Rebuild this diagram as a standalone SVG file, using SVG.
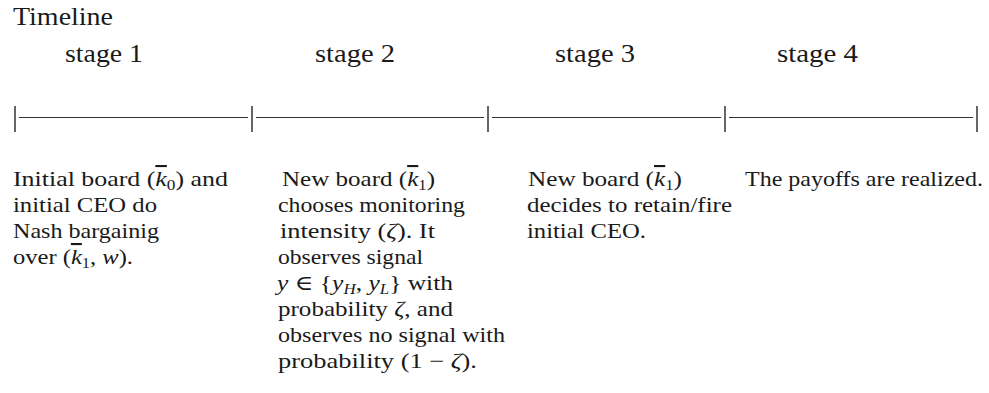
<svg xmlns="http://www.w3.org/2000/svg" width="989" height="393" viewBox="0 0 989 393" font-family="'Liberation Serif', 'DejaVu Serif', serif">
<style>
text{font-family:'Liberation Serif','DejaVu Serif',serif;fill:#1a1a1a}
.h{font-size:25px}
.b{font-size:21px}
.m{font-style:italic}
.ov{text-decoration:overline}
.sub{font-size:14px}
.tl{stroke:#333;stroke-width:1.2;fill:none}
.bar{stroke:#333;stroke-width:1.5}
</style>
<rect width="989" height="393" fill="#fff"/>
<text class="h" x="13" y="25" textLength="100" lengthAdjust="spacingAndGlyphs">Timeline</text>
<g id="timeline">
<line class="tl" x1="19" y1="117.5" x2="248" y2="117.5"/>
<line class="tl" x1="256" y1="117.5" x2="484" y2="117.5"/>
<line class="tl" x1="492" y1="117.5" x2="721" y2="117.5"/>
<line class="tl" x1="729" y1="117.5" x2="973" y2="117.5"/>
<line class="bar" x1="15" y1="106" x2="15" y2="132"/>
<line class="bar" x1="252" y1="106" x2="252" y2="132"/>
<line class="bar" x1="488" y1="106" x2="488" y2="132"/>
<line class="bar" x1="725" y1="106" x2="725" y2="132"/>
<line class="bar" x1="977" y1="106" x2="977" y2="132"/>
</g>
<g id="stage1">
<text class="h" x="65" y="62" textLength="78" lengthAdjust="spacingAndGlyphs">stage 1</text>
<text class="b" x="13" y="186" textLength="215" lengthAdjust="spacingAndGlyphs">Initial board (<tspan class="m ov">k</tspan><tspan class="sub" dy="4">0</tspan><tspan dy="-4">) and</tspan></text>
<text class="b" x="13" y="212" textLength="144" lengthAdjust="spacingAndGlyphs">initial CEO do</text>
<text class="b" x="13" y="238" textLength="146" lengthAdjust="spacingAndGlyphs">Nash bargainig</text>
<text class="b" x="13" y="264" textLength="120" lengthAdjust="spacingAndGlyphs">over (<tspan class="m ov">k</tspan><tspan class="sub" dy="4">1</tspan><tspan dy="-4">, </tspan><tspan class="m">w</tspan>).</text>
</g>
<g id="stage2">
<text class="h" x="315" y="62" textLength="80" lengthAdjust="spacingAndGlyphs">stage 2</text>
<text class="b" x="282" y="186" textLength="153" lengthAdjust="spacingAndGlyphs">New board (<tspan class="m ov">k</tspan><tspan class="sub" dy="4">1</tspan><tspan dy="-4">)</tspan></text>
<text class="b" x="278" y="212" textLength="187" lengthAdjust="spacingAndGlyphs">chooses monitoring</text>
<text class="b" x="280" y="238" textLength="155" lengthAdjust="spacingAndGlyphs">intensity (<tspan class="m">ζ</tspan>). It</text>
<text class="b" x="278" y="264" textLength="145" lengthAdjust="spacingAndGlyphs">observes signal</text>
<text class="b" x="277" y="290" textLength="176" lengthAdjust="spacingAndGlyphs"><tspan class="m">y</tspan> ∈ {<tspan class="m">y</tspan><tspan class="sub m" dy="4">H</tspan><tspan dy="-4">, </tspan><tspan class="m">y</tspan><tspan class="sub m" dy="4">L</tspan><tspan dy="-4">} with</tspan></text>
<text class="b" x="278" y="316" textLength="175" lengthAdjust="spacingAndGlyphs">probability <tspan class="m">ζ</tspan>, and</text>
<text class="b" x="278" y="342" textLength="227" lengthAdjust="spacingAndGlyphs">observes no signal with</text>
<text class="b" x="278" y="368" textLength="199" lengthAdjust="spacingAndGlyphs">probability (1 − <tspan class="m">ζ</tspan>).</text>
</g>
<g id="stage3">
<text class="h" x="555" y="62" textLength="80" lengthAdjust="spacingAndGlyphs">stage 3</text>
<text class="b" x="528" y="186" textLength="154" lengthAdjust="spacingAndGlyphs">New board (<tspan class="m ov">k</tspan><tspan class="sub" dy="4">1</tspan><tspan dy="-4">)</tspan></text>
<text class="b" x="527" y="212" textLength="205" lengthAdjust="spacingAndGlyphs">decides to retain/fire</text>
<text class="b" x="527" y="238" textLength="119" lengthAdjust="spacingAndGlyphs">initial CEO.</text>
</g>
<g id="stage4">
<text class="h" x="777" y="62" textLength="81" lengthAdjust="spacingAndGlyphs">stage 4</text>
<text class="b" x="745" y="186" textLength="238" lengthAdjust="spacingAndGlyphs">The payoffs are realized.</text>
</g>
</svg>
